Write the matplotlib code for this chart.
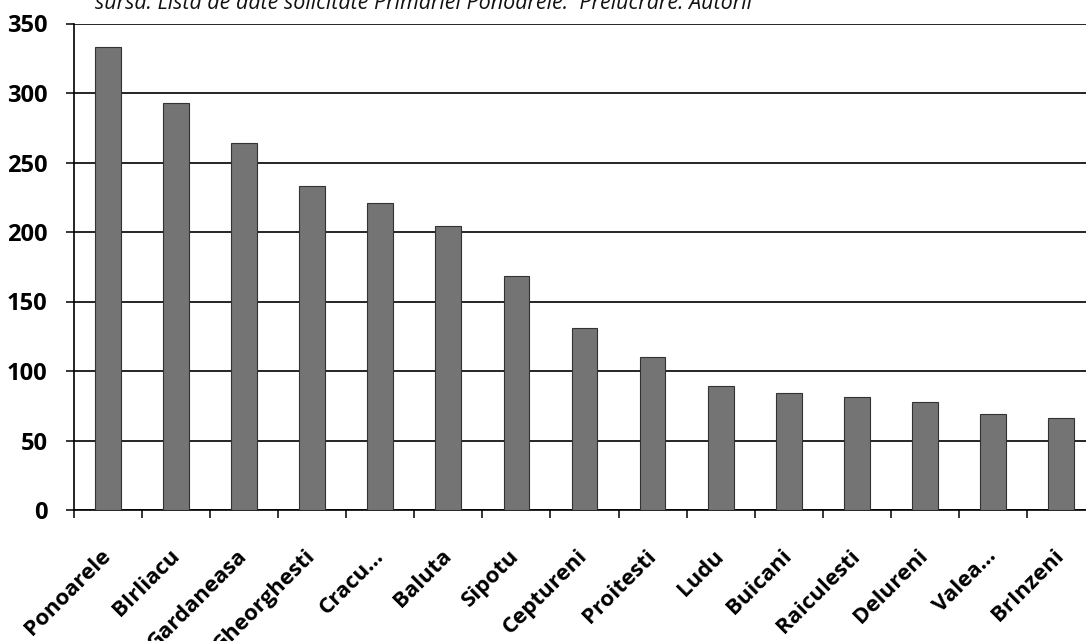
import matplotlib
matplotlib.use("Agg")
import matplotlib.pyplot as plt
from matplotlib.ticker import FixedLocator

villages = ["Ponoarele", "BIrliacu", "Gardaneasa", "Gheorghesti", "Cracu...",
            "Baluta", "Sipotu", "Ceptureni", "Proitesti", "Ludu", "Buicani",
            "Raiculesti", "Delureni", "Valea...", "BrInzeni"]
values = [333, 293, 264, 233, 221, 204, 168, 131, 110, 89, 84, 81, 78, 69, 66]
y_ticks = [0, 50, 100, 150, 200, 250, 300, 350]
source_note = "sursa: Lista de date solicitate Primariei Ponoarele.  Prelucrare: Autorii"

W, H = 1086, 641
fig = plt.figure(figsize=(W / 100, H / 100), dpi=100)
fig.patch.set_facecolor("white")

# axes box in pixel terms: x from 74 to 1095, y from 510 (zero) up to 23.5 (350)
left, right, bottom_px, top_px = 74, 1095, 510, 23.5
ax = fig.add_axes([left / W, (H - bottom_px) / H, (right - left) / W,
                   (bottom_px - top_px) / H])

x = list(range(len(villages)))
ax.bar(x, values, width=0.38, color="#747474", edgecolor="#333333",
       linewidth=0.8, zorder=3)

ax.set_xlim(-0.5, len(villages) - 0.5)
ax.set_ylim(0, 350)
ax.set_yticks(y_ticks)
ax.yaxis.grid(True, color="black", linewidth=1.2, zorder=0)
ax.set_axisbelow(True)

for side in ("top", "right"):
    ax.spines[side].set_visible(False)
for side in ("left", "bottom"):
    ax.spines[side].set_color("black")
    ax.spines[side].set_linewidth(1.2)

font = "Open Sans"
ax.tick_params(axis="y", direction="out", length=6, width=1.1, pad=13,
               labelsize=17, color="black")
for lab in ax.get_yticklabels():
    lab.set_fontfamily(font)
    lab.set_fontweight("bold")

# category labels at bar centres, tick marks at category boundaries
ax.set_xticks(x)
ax.set_xticklabels(villages, rotation=45, ha="right", va="center",
                   rotation_mode="anchor", fontsize=16, fontfamily=font,
                   fontweight="bold")
ax.tick_params(axis="x", which="major", length=0, pad=31)
ax.xaxis.set_minor_locator(FixedLocator([i - 0.5 for i in range(len(villages) + 1)]))
ax.tick_params(axis="x", which="minor", direction="out", length=6, width=1.1,
               color="black")

fig.text(95 / W, 1 - 9 / H, source_note, fontsize=15.5, fontstyle="italic",
         fontfamily=font, ha="left", va="baseline", color="#111111")

fig.savefig("out.png", dpi=100, facecolor="white")
